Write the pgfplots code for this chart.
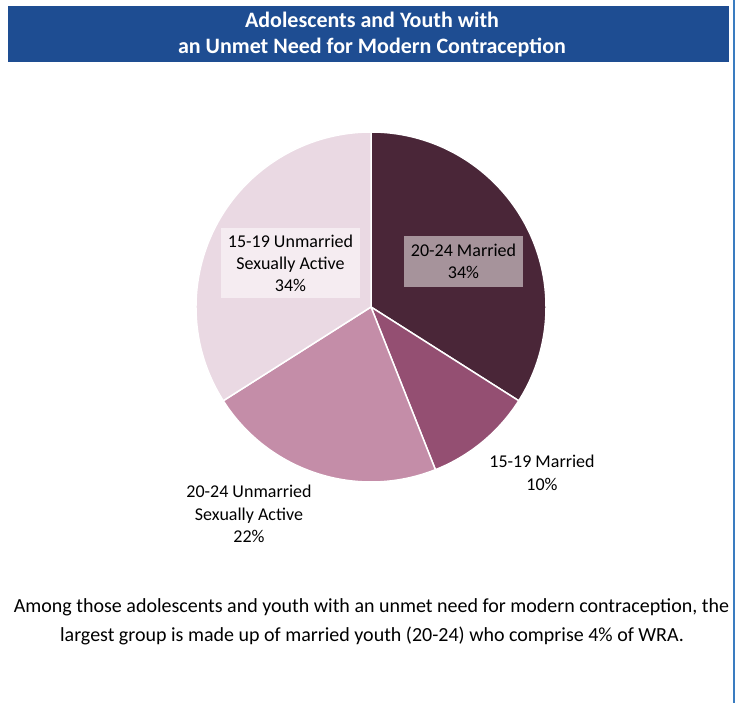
\documentclass[border=0pt]{standalone}
\usepackage{pgfplots}
\pgfplotsset{compat=1.18}
\usepackage{fontspec}
\setmainfont{Carlito}

\definecolor{titleblue}{HTML}{1E4D92}
\definecolor{edgeblue}{HTML}{3A7CC0}
\definecolor{married2024}{HTML}{4A2638}
\definecolor{married1519}{HTML}{944F72}
\definecolor{unmar2024}{HTML}{C48DA8}
\definecolor{unmar1519}{HTML}{EAD9E3}
\definecolor{boxdark}{HTML}{A6939B}
\definecolor{boxlight}{HTML}{F5ECF1}

% one wedge: #1 share already used (%), #2 share of this slice (%), #3 colour
\newcommand{\slice}[3]{%
  \pgfmathsetmacro\sa{90-3.6*#1}%
  \pgfmathsetmacro\se{90-3.6*(#1+#2)}%
  \edef\tmp{\noexpand\fill[#3, draw=white, line width=1.5pt]
    (axis cs:371,396) -- ++(\sa:175pt)
    arc[start angle=\sa, end angle=\se, radius=175pt] -- cycle;}%
  \tmp}

\begin{document}
\begin{tikzpicture}
\begin{axis}[
    x=1pt, y=1pt,
    xmin=0, xmax=738,
    ymin=0, ymax=703,
    scale only axis,
    hide axis,
    clip=false,
]
% page and frame
\fill[white] (axis cs:0,0) rectangle (axis cs:738,703);
\fill[titleblue] (axis cs:8,641) rectangle (axis cs:729,697);
\fill[edgeblue] (axis cs:733,0) rectangle (axis cs:735,703);

\node[font=\fontsize{22}{27}\bfseries, text=white] at (axis cs:372,683) {Adolescents and Youth with};
\node[font=\fontsize{22}{27}\bfseries, text=white] at (axis cs:372,655) {an Unmet Need for Modern Contraception};

% pie: 20-24 Married 34, 15-19 Married 10, 20-24 Unmarried SA 22, 15-19 Unmarried SA 34
\slice{0}{34}{married2024}
\slice{34}{10}{married1519}
\slice{44}{22}{unmar2024}
\slice{66}{34}{unmar1519}

\node[fill=boxlight, minimum width=139pt, minimum height=70pt, inner sep=0pt,
      align=center, font=\fontsize{18}{22}\selectfont]
  at (axis cs:290.5,440) {15-19 Unmarried\\Sexually Active\\34\%};
\node[fill=boxdark, minimum width=119pt, minimum height=51pt, inner sep=0pt,
      align=center, font=\fontsize{18}{22}\selectfont]
  at (axis cs:463.5,441.5) {20-24 Married\\34\%};
\node[align=center, font=\fontsize{18}{23}\selectfont]
  at (axis cs:542,230.5) {15-19 Married\\10\%};
\node[align=center, font=\fontsize{18}{22.5}\selectfont]
  at (axis cs:249,189) {20-24 Unmarried\\Sexually Active\\22\%};

\node[font=\fontsize{20}{24}\selectfont] at (axis cs:371.5,96) {Among those adolescents and youth with an unmet need for modern contraception, the};
\node[font=\fontsize{20}{24}\selectfont] at (axis cs:372,67) {largest group is made up of married youth (20-24) who comprise 4\% of WRA.};
\end{axis}
\end{tikzpicture}
\end{document}
